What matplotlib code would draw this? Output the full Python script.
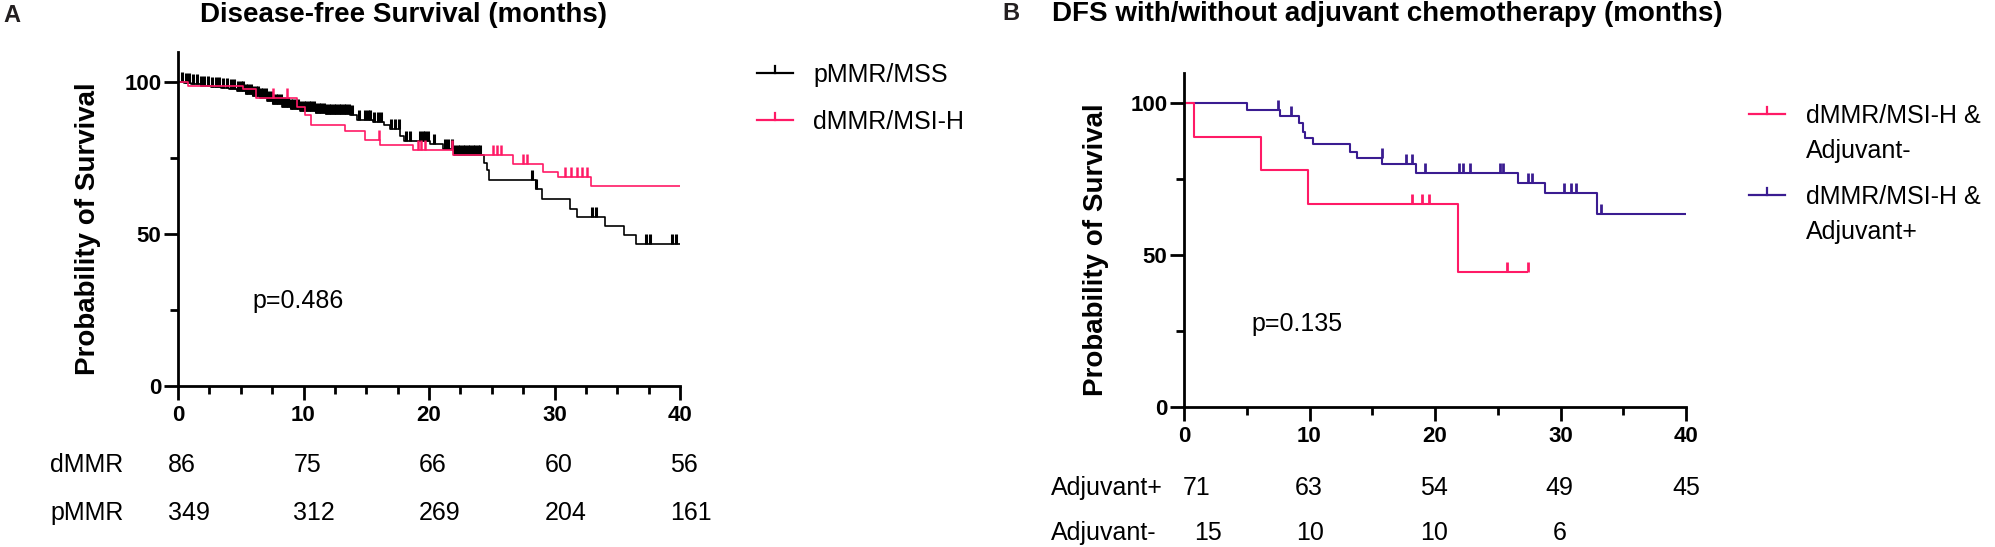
import numpy as np
import matplotlib
matplotlib.use("Agg")
import matplotlib.pyplot as plt
from matplotlib.lines import Line2D
from matplotlib.ticker import MultipleLocator
from matplotlib.transforms import blended_transform_factory

plt.rcParams["font.family"] = ["Liberation Sans", "DejaVu Sans"]

# ---- Panel A: disease-free survival, pMMR/MSS vs dMMR/MSI-H ----
pmmr_times = [0, 0.5, 1.0, 1.8, 2.6, 3.4, 4.1, 4.7, 5.4, 6.0, 6.5, 7.1, 7.6, 8.3, 9.0,
              9.7, 11.0, 11.8, 13.7, 14.3, 15.5, 16.4, 16.9, 17.7, 18.0, 20.1, 21.1,
              22.0, 24.4, 24.6, 24.8, 28.5, 29.0, 31.2, 31.8, 34.0, 35.5, 36.5]
pmmr_surv = [100, 99.7, 99.2, 98.8, 98.4, 98.0, 97.6, 97.0, 96.2, 95.3, 94.6, 93.6, 92.6,
             91.8, 91.0, 90.3, 89.9, 89.6, 89.2, 87.6, 86.8, 86.0, 84.4, 82.2, 80.6, 79.5,
             77.9, 76.0, 73.5, 71.0, 67.8, 64.7, 61.4, 58.2, 55.6, 52.5, 49.8, 46.6]
pmmr_censor = [0.3, 0.6, 0.9, 1.2, 1.5, 1.8, 2.1, 2.4, 2.7, 3.0, 3.3, 3.6, 3.9, 4.2, 4.5,
               4.8, 5.0, 5.2, 5.4, 5.6, 5.8, 6.0, 6.2, 6.4, 6.6, 6.8, 7.0, 7.2, 7.4, 7.6,
               7.8, 8.0, 8.2, 8.4, 8.6, 8.8, 9.0, 9.2, 9.4, 9.6, 9.8, 10.0, 10.2, 10.4,
               10.6, 10.8, 11.0, 11.2, 11.4, 11.6, 11.8, 12.0, 12.2, 12.4, 12.6, 12.8,
               13.0, 13.2, 13.4, 13.6, 13.9, 14.4, 14.9, 15.1, 15.3, 15.6, 15.9, 16.2,
               17.0, 17.3, 17.6, 18.2, 18.5, 19.3, 19.5, 19.7, 19.9, 20.4, 21.3, 21.5,
               21.8, 22.1, 22.3, 22.5, 22.7, 22.9, 23.1, 23.3, 23.5, 23.7, 23.9, 24.1,
               28.2, 28.5, 33.0, 33.3, 37.3, 37.6, 39.4, 39.7]

dmmr_times = [0, 0.8, 5.2, 6.2, 9.5, 10.1, 10.6, 13.3, 14.9, 16.1, 18.75, 21.9, 26.7,
              29.1, 30.3, 32.9]
dmmr_surv = [100, 98.7, 97.6, 94.6, 91.9, 89.2, 85.9, 84.0, 80.9, 79.3, 77.7, 76.0, 73.0,
             70.5, 68.6, 65.8]
dmmr_censor = [7.6, 8.7, 16.0, 19.1, 19.4, 19.7, 21.8, 25.1, 25.4, 25.7, 27.5, 27.8,
               30.8, 31.3, 31.8, 32.2, 32.6]

risk_a_labels = ["dMMR", "pMMR"]
risk_a_dmmr = [86, 75, 66, 60, 56]
risk_a_pmmr = [349, 312, 269, 204, 161]

# ---- Panel B: dMMR/MSI-H with/without adjuvant chemotherapy ----
adjm_times = [0, 0.8, 6.1, 9.9, 21.8]
adjm_surv = [100, 88.9, 77.8, 66.7, 44.4]
adjm_censor = [18.2, 19.0, 19.5, 25.7, 27.4]
adjm_end = 27.4

adjp_times = [0, 5.0, 7.65, 9.2, 9.5, 9.65, 10.3, 13.2, 13.8, 15.8, 18.5, 26.6, 28.8, 32.9]
adjp_surv = [100, 97.7, 95.8, 93.3, 90.6, 88.6, 86.5, 84.0, 81.8, 79.8, 77.1, 73.6, 70.3,
             63.6]
adjp_censor = [7.5, 8.5, 15.75, 17.7, 18.2, 19.2, 21.9, 22.2, 22.8, 25.2, 25.4, 27.4,
               27.7, 30.3, 30.8, 31.2, 33.2]
adjp_end = 40

risk_b_labels = ["Adjuvant+", "Adjuvant-"]
risk_b_plus = [71, 63, 54, 49, 45]
risk_b_minus = [15, 10, 10, 6]

BLACK = "#000000"
PINK = "#ff1a66"
PURPLE = "#3a1c91"
LETTER = "#231f20"

W, H = 1995, 547
fig = plt.figure(figsize=(W / 100, H / 100), dpi=100)

FS_TITLE = 20
FS_TEXT = 18
FS_TICK = 16


def fx(px):
    return px / W


def fy(py):
    return 1 - py / H


def km(ax, times, surv, censor, end, color, lw, mark_lw):
    t = list(times) + [end]
    s = list(surv) + [surv[-1]]
    ax.step(t, s, where="post", color=color, lw=lw, zorder=2, solid_capstyle="butt")
    times = np.asarray(times)
    idx = np.searchsorted(times, censor, side="right") - 1
    cy = np.asarray(surv)[idx]
    ax.vlines(censor, cy, cy + 3.3, color=color, lw=mark_lw, zorder=2)


def style_axes(ax, minor_x):
    ax.set_xlim(0, 40)
    ax.set_ylim(0, 110)
    for s in ("top", "right"):
        ax.spines[s].set_visible(False)
    for s in ("left", "bottom"):
        ax.spines[s].set_linewidth(2.0)
        ax.spines[s].set_capstyle("projecting")
    ax.set_xticks([0, 10, 20, 30, 40])
    ax.set_yticks([0, 50, 100])
    ax.xaxis.set_minor_locator(MultipleLocator(minor_x))
    ax.yaxis.set_minor_locator(MultipleLocator(25))
    ax.tick_params(which="major", length=10, width=2.0, labelsize=FS_TICK)
    ax.tick_params(which="minor", length=6, width=2.0)
    ax.tick_params(axis="x", pad=4)
    ax.tick_params(axis="y", pad=2)
    for lab in ax.get_xticklabels() + ax.get_yticklabels():
        lab.set_fontweight("bold")


def legend_entry(x0, y, color):
    fig.add_artist(Line2D([fx(x0), fx(x0 + 36)], [fy(y), fy(y)], color=color, lw=1.6))
    fig.add_artist(Line2D([fx(x0 + 18), fx(x0 + 18)], [fy(y), fy(y - 7)], color=color, lw=1.6))


# Panel A
ax_a = fig.add_axes([fx(178), fy(386), (680 - 178) / W, (386 - 51.6) / H])
km(ax_a, pmmr_times, pmmr_surv, pmmr_censor, 40, BLACK, 1.2, 2.2)
km(ax_a, dmmr_times, dmmr_surv, dmmr_censor, 40, PINK, 1.2, 1.8)
style_axes(ax_a, 2.5)
ax_a.text(5.9, 28, "p=0.486", fontsize=FS_TEXT, ha="left", va="center")

fig.text(fx(3), fy(16), "A", fontsize=17, fontweight="bold", color=LETTER, va="center")
fig.text(fx(200), fy(15), "Disease-free Survival (months)", fontsize=FS_TITLE,
         fontweight="bold", va="center", ha="left")
fig.text(fx(88), fy(229), "Probability of Survival", fontsize=FS_TITLE, fontweight="bold",
         rotation=90, ha="center", va="center")

legend_entry(757, 73, BLACK)
fig.text(fx(813), fy(75), "pMMR/MSS", fontsize=FS_TEXT, va="center", ha="left")
legend_entry(757, 120, PINK)
fig.text(fx(813), fy(122), "dMMR/MSI-H", fontsize=FS_TEXT, va="center", ha="left")

tr_a = blended_transform_factory(ax_a.transData, fig.transFigure)
fig.text(-10.2, fy(465), risk_a_labels[0], transform=tr_a, fontsize=FS_TEXT, va="center")
fig.text(-10.2, fy(513), risk_a_labels[1], transform=tr_a, fontsize=FS_TEXT, va="center")
for i, t in enumerate([0, 10, 20, 30, 40]):
    fig.text(t - 0.8, fy(465), str(risk_a_dmmr[i]), transform=tr_a, fontsize=FS_TEXT,
             va="center", ha="left")
    fig.text(t - 0.8, fy(513), str(risk_a_pmmr[i]), transform=tr_a, fontsize=FS_TEXT,
             va="center", ha="left")

# Panel B
ax_b = fig.add_axes([fx(1184), fy(407), (1686 - 1184) / W, (407 - 72.6) / H])
km(ax_b, adjp_times, adjp_surv, adjp_censor, adjp_end, PURPLE, 1.5, 2.0)
km(ax_b, adjm_times, adjm_surv, adjm_censor, adjm_end, PINK, 1.5, 2.0)
style_axes(ax_b, 5)
ax_b.text(5.4, 27.3, "p=0.135", fontsize=FS_TEXT, ha="left", va="center")

fig.text(fx(1002), fy(14), "B", fontsize=17, fontweight="bold", color=LETTER, va="center")
fig.text(fx(1052), fy(14), "DFS with/without adjuvant chemotherapy (months)",
         fontsize=FS_TITLE, fontweight="bold", va="center", ha="left")
fig.text(fx(1096), fy(250), "Probability of Survival", fontsize=FS_TITLE, fontweight="bold",
         rotation=90, ha="center", va="center")

legend_entry(1749, 114, PINK)
fig.text(fx(1806), fy(116), "dMMR/MSI-H &", fontsize=FS_TEXT, va="center", ha="left")
fig.text(fx(1806), fy(151), "Adjuvant-", fontsize=FS_TEXT, va="center", ha="left")
legend_entry(1749, 195, PURPLE)
fig.text(fx(1806), fy(197), "dMMR/MSI-H &", fontsize=FS_TEXT, va="center", ha="left")
fig.text(fx(1806), fy(232), "Adjuvant+", fontsize=FS_TEXT, va="center", ha="left")

tr_b = blended_transform_factory(ax_b.transData, fig.transFigure)
fig.text(-10.6, fy(488), risk_b_labels[0], transform=tr_b, fontsize=FS_TEXT, va="center")
fig.text(-10.6, fy(533), risk_b_labels[1], transform=tr_b, fontsize=FS_TEXT, va="center")
for x, v in zip([-0.1, 8.8, 18.8, 28.8, 38.9], risk_b_plus):
    fig.text(x, fy(488), str(v), transform=tr_b, fontsize=FS_TEXT, va="center", ha="left")
for x, v in zip([0.8, 8.9, 18.8, 29.4], risk_b_minus):
    fig.text(x, fy(533), str(v), transform=tr_b, fontsize=FS_TEXT, va="center", ha="left")

fig.savefig("out.png", dpi=100)
